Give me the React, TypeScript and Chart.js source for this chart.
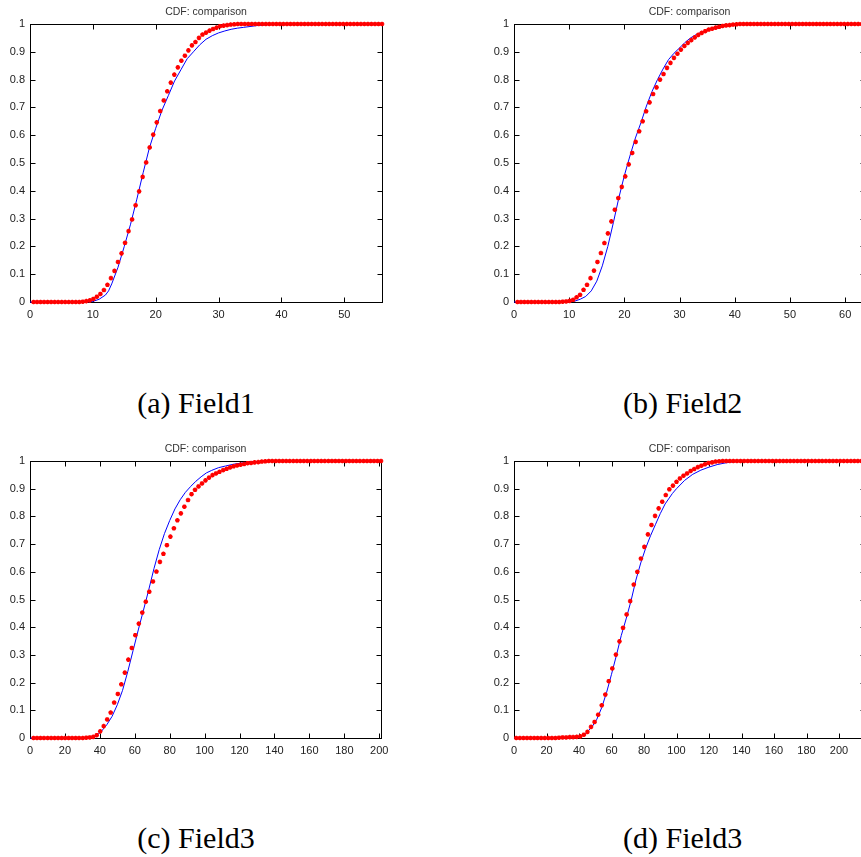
import React, { useEffect, useRef } from "react";
import { Chart, registerables } from "chart.js";

Chart.register(...registerables);

const TITLE = "CDF: comparison";
const CAPTIONS = ["(a) Field1", "(b) Field2", "(c) Field3", "(d) Field3"];

// ---------- Panel (a) ----------
const xMaxA = 56;
const xStepA = 10;
const redAX = [0.56, 1.12, 1.68, 2.24, 2.8, 3.36, 3.92, 4.48, 5.04, 5.6, 6.16, 6.72, 7.28, 7.84, 8.4, 8.96, 9.52, 10.08, 10.64, 11.2, 11.76, 12.32, 12.88, 13.44, 14, 14.56, 15.12, 15.68, 16.24, 16.8, 17.36, 17.92, 18.48, 19.04, 19.6, 20.16, 20.72, 21.28, 21.84, 22.4, 22.96, 23.52, 24.08, 24.64, 25.2, 25.76, 26.32, 26.88, 27.44, 28, 28.56, 29.12, 29.68, 30.24, 30.8, 31.36, 31.92, 32.48, 33.04, 33.6, 34.16, 34.72, 35.28, 35.84, 36.4, 36.96, 37.52, 38.08, 38.64, 39.2, 39.76, 40.32, 40.88, 41.44, 42, 42.56, 43.12, 43.68, 44.24, 44.8, 45.36, 45.92, 46.48, 47.04, 47.6, 48.16, 48.72, 49.28, 49.84, 50.4, 50.96, 51.52, 52.08, 52.64, 53.2, 53.76, 54.32, 54.88, 55.44, 56];
const redAY = [0, 0, 0, 0, 0, 0, 0, 0, 0, 0, 0, 0, 0, 0, 0.001, 0.003, 0.006, 0.011, 0.019, 0.029, 0.043, 0.062, 0.086, 0.112, 0.144, 0.175, 0.213, 0.255, 0.297, 0.348, 0.398, 0.45, 0.502, 0.556, 0.602, 0.646, 0.687, 0.725, 0.758, 0.789, 0.818, 0.844, 0.868, 0.886, 0.905, 0.923, 0.935, 0.95, 0.962, 0.969, 0.976, 0.982, 0.987, 0.992, 0.994, 0.996, 0.998, 0.999, 1, 1, 1, 1, 1, 1, 1, 1, 1, 1, 1, 1, 1, 1, 1, 1, 1, 1, 1, 1, 1, 1, 1, 1, 1, 1, 1, 1, 1, 1, 1, 1, 1, 1, 1, 1, 1, 1, 1, 1, 1, 1, 1, 1];
const blueAX = [0, 9, 10, 11, 12, 12.5, 13, 14, 15, 16, 17, 18, 19, 20, 21, 22, 23, 24, 25, 26, 27, 28, 29, 30, 31, 32, 33, 34, 35, 36, 38, 40, 56];
const blueAY = [0, 0, 0.002, 0.01, 0.025, 0.04, 0.065, 0.125, 0.2, 0.28, 0.37, 0.465, 0.555, 0.625, 0.69, 0.742, 0.795, 0.835, 0.875, 0.9, 0.925, 0.945, 0.958, 0.968, 0.975, 0.981, 0.985, 0.988, 0.991, 0.994, 0.998, 1, 1];

// ---------- Panel (b) ----------
const xMaxB = 63.6;
const xStepB = 10;
const redBX = [0.63, 1.26, 1.89, 2.52, 3.15, 3.78, 4.41, 5.04, 5.67, 6.3, 6.93, 7.56, 8.19, 8.82, 9.45, 10.08, 10.71, 11.34, 11.97, 12.6, 13.23, 13.86, 14.49, 15.12, 15.75, 16.38, 17.01, 17.64, 18.27, 18.9, 19.53, 20.16, 20.79, 21.42, 22.05, 22.68, 23.31, 23.94, 24.57, 25.2, 25.83, 26.46, 27.09, 27.72, 28.35, 28.98, 29.61, 30.24, 30.87, 31.5, 32.13, 32.76, 33.39, 34.02, 34.65, 35.28, 35.91, 36.54, 37.17, 37.8, 38.43, 39.06, 39.69, 40.32, 40.95, 41.58, 42.21, 42.84, 43.47, 44.1, 44.73, 45.36, 45.99, 46.62, 47.25, 47.88, 48.51, 49.14, 49.77, 50.4, 51.03, 51.66, 52.29, 52.92, 53.55, 54.18, 54.81, 55.44, 56.07, 56.7, 57.33, 57.96, 58.59, 59.22, 59.85, 60.48, 61.11, 61.74, 62.37, 63];
const redBY = [0, 0, 0, 0, 0, 0, 0, 0, 0, 0, 0, 0, 0, 0.001, 0.002, 0.004, 0.008, 0.017, 0.026, 0.044, 0.062, 0.086, 0.113, 0.144, 0.176, 0.212, 0.247, 0.29, 0.332, 0.374, 0.414, 0.452, 0.495, 0.536, 0.576, 0.614, 0.65, 0.686, 0.718, 0.748, 0.772, 0.8, 0.82, 0.842, 0.86, 0.878, 0.893, 0.908, 0.921, 0.932, 0.942, 0.952, 0.961, 0.968, 0.974, 0.98, 0.983, 0.987, 0.99, 0.993, 0.995, 0.996, 0.998, 0.999, 1, 1, 1, 1, 1, 1, 1, 1, 1, 1, 1, 1, 1, 1, 1, 1, 1, 1, 1, 1, 1, 1, 1, 1, 1, 1, 1, 1, 1, 1, 1, 1, 1, 1, 1, 1];
const blueBX = [0, 10, 11, 12, 13, 14, 15, 16, 17, 18, 19, 20, 21, 22, 23, 24, 25, 26, 27, 28, 29, 30, 31, 32, 33, 34, 35, 36, 37, 38, 40, 42, 63.6];
const blueBY = [0, 0, 0.003, 0.01, 0.02, 0.04, 0.075, 0.13, 0.2, 0.285, 0.375, 0.455, 0.525, 0.59, 0.645, 0.705, 0.757, 0.8, 0.838, 0.872, 0.895, 0.914, 0.934, 0.95, 0.962, 0.971, 0.977, 0.982, 0.986, 0.991, 0.997, 1, 1];

// ---------- Panel (c) ----------
const xMaxC = 201;
const xStepC = 20;
const redCX = [2, 4, 6, 8, 10.1, 12.1, 14.1, 16.1, 18.1, 20.1, 22.1, 24.1, 26.1, 28.1, 30.2, 32.2, 34.2, 36.2, 38.2, 40.2, 42.2, 44.2, 46.2, 48.2, 50.3, 52.3, 54.3, 56.3, 58.3, 60.3, 62.3, 64.3, 66.3, 68.3, 70.4, 72.4, 74.4, 76.4, 78.4, 80.4, 82.4, 84.4, 86.4, 88.4, 90.5, 92.5, 94.5, 96.5, 98.5, 100.5, 102.5, 104.5, 106.5, 108.5, 110.6, 112.6, 114.6, 116.6, 118.6, 120.6, 122.6, 124.6, 126.6, 128.6, 130.7, 132.7, 134.7, 136.7, 138.7, 140.7, 142.7, 144.7, 146.7, 148.7, 150.8, 152.8, 154.8, 156.8, 158.8, 160.8, 162.8, 164.8, 166.8, 168.8, 170.9, 172.9, 174.9, 176.9, 178.9, 180.9, 182.9, 184.9, 186.9, 188.9, 191, 193, 195, 197, 199, 201];
const redCY = [0, 0, 0, 0, 0, 0, 0, 0, 0, 0, 0, 0, 0, 0, 0, 0.001, 0.002, 0.004, 0.01, 0.024, 0.043, 0.067, 0.092, 0.128, 0.159, 0.194, 0.236, 0.283, 0.325, 0.371, 0.413, 0.453, 0.492, 0.528, 0.565, 0.601, 0.636, 0.665, 0.696, 0.727, 0.757, 0.786, 0.811, 0.835, 0.859, 0.88, 0.896, 0.908, 0.919, 0.93, 0.94, 0.949, 0.955, 0.961, 0.967, 0.972, 0.977, 0.981, 0.984, 0.987, 0.989, 0.992, 0.993, 0.995, 0.996, 0.998, 0.999, 1, 1, 1, 1, 1, 1, 1, 1, 1, 1, 1, 1, 1, 1, 1, 1, 1, 1, 1, 1, 1, 1, 1, 1, 1, 1, 1, 1, 1, 1, 1, 1, 1, 1];
const blueCX = [0, 30, 35, 38, 41, 44, 47, 50, 53, 56, 59, 62, 65, 68, 71, 74, 77, 80, 83, 86, 89, 92, 95, 98, 101, 104, 108, 112, 117, 123, 130, 138, 201];
const blueCY = [0, 0, 0.002, 0.008, 0.025, 0.048, 0.078, 0.12, 0.172, 0.24, 0.315, 0.39, 0.462, 0.535, 0.612, 0.68, 0.738, 0.785, 0.827, 0.86, 0.887, 0.908, 0.927, 0.943, 0.957, 0.966, 0.976, 0.982, 0.989, 0.994, 0.998, 1, 1];

// ---------- Panel (d) ----------
const xMaxD = 216;
const xStepD = 20;
const redDX = [1.4, 3.6, 5.8, 8, 10.2, 12.4, 14.5, 16.7, 18.9, 21.1, 23.3, 25.5, 27.7, 29.9, 32.1, 34.3, 36.4, 38.6, 40.8, 43, 45.2, 47.4, 49.6, 51.8, 54, 56.2, 58.3, 60.5, 62.7, 64.9, 67.1, 69.3, 71.5, 73.7, 75.9, 78.1, 80.2, 82.4, 84.6, 86.8, 89, 91.2, 93.4, 95.6, 97.8, 100, 102.1, 104.3, 106.5, 108.7, 110.9, 113.1, 115.3, 117.5, 119.7, 121.9, 124, 126.2, 128.4, 130.6, 132.8, 135, 137.2, 139.4, 141.6, 143.8, 145.9, 148.1, 150.3, 152.5, 154.7, 156.9, 159.1, 161.3, 163.5, 165.7, 167.8, 170, 172.2, 174.4, 176.6, 178.8, 181, 183.2, 185.4, 187.6, 189.7, 191.9, 194.1, 196.3, 198.5, 200.7, 202.9, 205.1, 207.3, 209.5, 211.6, 213.8];
const redDY = [0, 0, 0, 0, 0, 0, 0, 0, 0, 0, 0, 0, 0.001, 0.002, 0.002, 0.003, 0.003, 0.004, 0.006, 0.012, 0.022, 0.04, 0.058, 0.084, 0.118, 0.157, 0.205, 0.251, 0.301, 0.349, 0.398, 0.446, 0.494, 0.554, 0.6, 0.648, 0.69, 0.735, 0.769, 0.802, 0.829, 0.853, 0.877, 0.898, 0.911, 0.925, 0.937, 0.947, 0.955, 0.964, 0.971, 0.978, 0.983, 0.988, 0.993, 0.995, 0.998, 0.999, 1, 1, 1, 1, 1, 1, 1, 1, 1, 1, 1, 1, 1, 1, 1, 1, 1, 1, 1, 1, 1, 1, 1, 1, 1, 1, 1, 1, 1, 1, 1, 1, 1, 1, 1, 1, 1, 1, 1, 1];
const blueDX = [0, 35, 40, 44, 48, 51, 54, 57, 60, 63, 66, 69, 72, 75, 78, 81, 84, 87, 90, 93, 97.5, 100, 105, 110, 115, 120, 125, 130, 135, 140, 216];
const blueDY = [0, 0, 0.004, 0.016, 0.04, 0.068, 0.11, 0.165, 0.23, 0.298, 0.37, 0.43, 0.495, 0.57, 0.632, 0.685, 0.73, 0.77, 0.81, 0.845, 0.883, 0.9, 0.93, 0.952, 0.967, 0.978, 0.987, 0.993, 0.997, 1, 1];

const SANS = '"Liberation Sans", Arial, Helvetica, sans-serif';
const SERIF = '"Liberation Serif", "Times New Roman", Times, serif';

const toPoints = (xs: number[], ys: number[]) => xs.map((x, i) => ({ x, y: ys[i] }));

const boxPlugin = {
  id: "matlabBox",
  beforeDatasetsDraw(chart: any) {
    const { ctx, chartArea: a, scales } = chart;
    const L = Math.floor(a.left) + 0.5;
    const R = Math.floor(a.right) + 0.5;
    const T = Math.floor(a.top) + 0.5;
    const B = Math.floor(a.bottom) + 0.5;
    const len = 5;
    ctx.save();
    ctx.strokeStyle = "#000";
    ctx.lineWidth = 1;
    ctx.strokeRect(L, T, R - L, B - T);
    ctx.beginPath();
    scales.x.ticks.forEach((t: any) => {
      const p = Math.round(scales.x.getPixelForValue(t.value)) + 0.5;
      ctx.moveTo(p, B);
      ctx.lineTo(p, B - len);
      ctx.moveTo(p, T);
      ctx.lineTo(p, T + len);
    });
    scales.y.ticks.forEach((t: any) => {
      const p = Math.round(scales.y.getPixelForValue(t.value)) + 0.5;
      ctx.moveTo(L, p);
      ctx.lineTo(L + len, p);
      ctx.moveTo(R, p);
      ctx.lineTo(R - len, p);
    });
    ctx.stroke();
    ctx.restore();
  },
};

type PanelProps = {
  left: number;
  top: number;
  width: number;
  height: number;
  xMax: number;
  xStep: number;
  redX: number[];
  redY: number[];
  blueX: number[];
  blueY: number[];
};

function Panel(p: PanelProps) {
  const ref = useRef<HTMLCanvasElement | null>(null);
  useEffect(() => {
    const chart = new Chart(ref.current as HTMLCanvasElement, {
      type: "scatter",
      data: {
        datasets: [
          {
            data: toPoints(p.redX, p.redY),
            showLine: false,
            pointStyle: "star",
            pointRadius: 2.3,
            pointBorderWidth: 1.4,
            borderColor: "#ff0000",
            backgroundColor: "#ff0000",
            order: 0,
            clip: 6,
          } as any,
          {
            data: toPoints(p.blueX, p.blueY),
            showLine: true,
            borderColor: "#0000ff",
            borderWidth: 1,
            pointRadius: 0,
            tension: 0,
            order: 1,
            clip: 2,
          } as any,
        ],
      },
      options: {
        animation: false,
        responsive: false,
        devicePixelRatio: 1,
        events: [],
        layout: { padding: 0 },
        plugins: {
          legend: { display: false },
          tooltip: { enabled: false },
          title: {
            display: true,
            text: TITLE,
            color: "#333",
            font: { family: SANS, size: 10.5, weight: "normal", lineHeight: 1.2 },
            padding: { top: 6, bottom: 5.4 },
          },
        },
        scales: {
          x: {
            type: "linear",
            min: 0,
            max: p.xMax,
            grid: { display: false, drawTicks: false },
            border: { display: false },
            ticks: {
              stepSize: p.xStep,
              includeBounds: false,
              autoSkip: false,
              maxRotation: 0,
              padding: 6,
              color: "#222",
              font: { family: SANS, size: 11 },
              callback: (v: any) => String(Math.round(Number(v))),
            },
            afterFit: (s: any) => {
              s.height = 38;
            },
          },
          y: {
            type: "linear",
            position: "left",
            min: 0,
            max: 1,
            grid: { display: false, drawTicks: false },
            border: { display: false },
            ticks: {
              stepSize: 0.1,
              autoSkip: false,
              padding: 5,
              color: "#222",
              font: { family: SANS, size: 11 },
              callback: (v: any) => Number(v).toFixed(1).replace(/\.0$/, ""),
            },
            afterFit: (s: any) => {
              s.width = 30;
            },
          },
          yRight: {
            type: "linear",
            position: "right",
            min: 0,
            max: 1,
            grid: { display: false, drawTicks: false },
            border: { display: false },
            ticks: { display: false },
            afterFit: (s: any) => {
              s.width = 30;
            },
          },
        },
      } as any,
      plugins: [boxPlugin],
    });
    return () => chart.destroy();
  }, []);
  return (
    <canvas
      ref={ref}
      width={p.width}
      height={p.height}
      style={{ position: "absolute", left: p.left, top: p.top, width: p.width, height: p.height }}
    />
  );
}

function Caption({ text, cx, top }: { text: string; cx: number; top: number }) {
  return (
    <div
      style={{
        position: "absolute",
        left: cx - 150,
        top,
        width: 300,
        textAlign: "center",
        fontFamily: SERIF,
        fontSize: 30,
        lineHeight: "30px",
        color: "#000",
        whiteSpace: "nowrap",
      }}
    >
      {text}
    </div>
  );
}

export default function App() {
  return (
    <div
      style={{
        position: "absolute",
        left: 0,
        top: 0,
        width: 861,
        height: 857,
        overflow: "hidden",
        background: "#fff",
      }}
    >
      <Panel left={0} top={0} width={412} height={340} xMax={xMaxA} xStep={xStepA} redX={redAX} redY={redAY} blueX={blueAX} blueY={blueAY} />
      <Panel left={484} top={0} width={411} height={340} xMax={xMaxB} xStep={xStepB} redX={redBX} redY={redBY} blueX={blueBX} blueY={blueBY} />
      <Panel left={0} top={437} width={411} height={339} xMax={xMaxC} xStep={xStepC} redX={redCX} redY={redCY} blueX={blueCX} blueY={blueCY} />
      <Panel left={484} top={437} width={411} height={339} xMax={xMaxD} xStep={xStepD} redX={redDX} redY={redDY} blueX={blueDX} blueY={blueDY} />
      <Caption text={CAPTIONS[0]} cx={196} top={388} />
      <Caption text={CAPTIONS[1]} cx={682.6} top={388} />
      <Caption text={CAPTIONS[2]} cx={196} top={823} />
      <Caption text={CAPTIONS[3]} cx={682.6} top={823} />
    </div>
  );
}
